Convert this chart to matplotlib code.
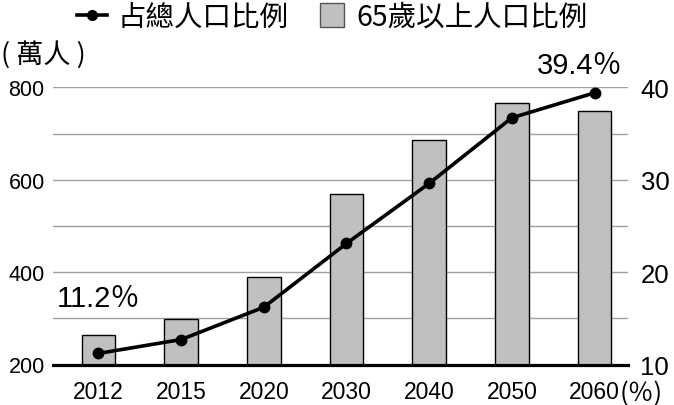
import matplotlib
matplotlib.use('Agg')
import matplotlib.pyplot as plt
from matplotlib import font_manager
from matplotlib.lines import Line2D

# ---- data ----
years = ['2012', '2015', '2020', '2030', '2040', '2050', '2060']
elderly = [263, 299, 389, 568, 685, 767, 749]          # 65歲以上人口 (萬人)
share = [11.2, 12.7, 16.2, 23.1, 29.6, 36.7, 39.4]      # 占總人口比例 (%)
left_ticks = [200, 300, 400, 500, 600, 700, 800]
left_labels = ['200', '', '400', '', '600', '', '800']
right_ticks = [10, 20, 30, 40]
right_labels = ['10', '20', '30', '40']
legend_labels = ['占總人口比例', '65歲以上人口比例']
unit_left = '( 萬人 )'
unit_right = '(％)'


def pick(names):
    for n in names:
        try:
            font_manager.findfont(font_manager.FontProperties(family=n),
                                  fallback_to_default=False)
            return n
        except Exception:
            pass
    return 'DejaVu Sans'


NUM = pick(['Liberation Sans Narrow', 'DejaVu Sans Condensed', 'Liberation Sans'])
CJK = 'Noto Sans CJK TC'
plt.rcParams['font.family'] = [NUM, CJK, 'DejaVu Sans']

W, H = 674, 406
fig = plt.figure(figsize=(W / 100, H / 100), dpi=100)
ax = fig.add_axes([53 / W, 40.5 / H, 575 / W, 277.2 / H])

x = list(range(len(years)))
ax.bar(x, elderly, width=0.405, color='#c0c0c0', edgecolor='black',
       linewidth=1.0, zorder=2)
ax.set_xlim(-0.55, 6.405)
ax.set_ylim(200, 800)
ax.set_yticks(left_ticks)
ax.set_yticklabels(left_labels)
ax.set_xticks(x)
ax.set_xticklabels(years)
ax.yaxis.grid(True, color='#a0a0a0', linewidth=1.0)
ax.set_axisbelow(True)
for s in ['top', 'left', 'right']:
    ax.spines[s].set_visible(False)
ax.spines['bottom'].set_linewidth(2.3)
ax.spines['bottom'].set_color('black')
ax.tick_params(axis='y', length=0, labelsize=15.5, pad=6)
ax.tick_params(axis='x', length=0, labelsize=16.5, pad=11)

ax2 = ax.twinx()
ax2.set_ylim(10, 40)
ax2.set_yticks(right_ticks)
ax2.set_yticklabels(right_labels)
for s in ax2.spines.values():
    s.set_visible(False)
ax2.tick_params(axis='y', length=0, labelsize=18.5, pad=9)
ax2.plot(x, share, color='black', linewidth=2.6, marker='o', markersize=7.5,
         zorder=3, clip_on=False, solid_joinstyle='round')

ax2.annotate(f'{share[0]}％', xy=(x[0], share[0]), xytext=(0, 40),
             textcoords='offset points', ha='center', va='center', fontsize=21)
ax2.annotate(f'{share[-1]}％', xy=(x[-1], share[-1]), xytext=(-10.5, 20),
             textcoords='offset points', ha='center', va='center', fontsize=21)

handles = [Line2D([], [], color='black', linewidth=2.6, marker='o', markersize=7),
           Line2D([], [], linestyle='none', marker='s', markersize=17,
                  markerfacecolor='#c0c0c0', markeredgecolor='#555555',
                  markeredgewidth=1.0)]
fig.legend(handles, legend_labels, loc='upper center',
           bbox_to_anchor=(332.5 / W, 1 - 3 / H), ncol=2, frameon=False,
           prop={'family': [CJK], 'size': 20.5}, handlelength=1.05,
           handletextpad=0.35, columnspacing=1.0, borderpad=0,
           borderaxespad=0)

fig.text(1 / W, 1 - 55 / H, unit_left, family=[CJK], fontsize=19.5,
         ha='left', va='center')
fig.text(620 / W, 1 - 394 / H, unit_right, family=[CJK], fontsize=18.5,
         ha='left', va='center')

fig.savefig('out.png', dpi=100)
